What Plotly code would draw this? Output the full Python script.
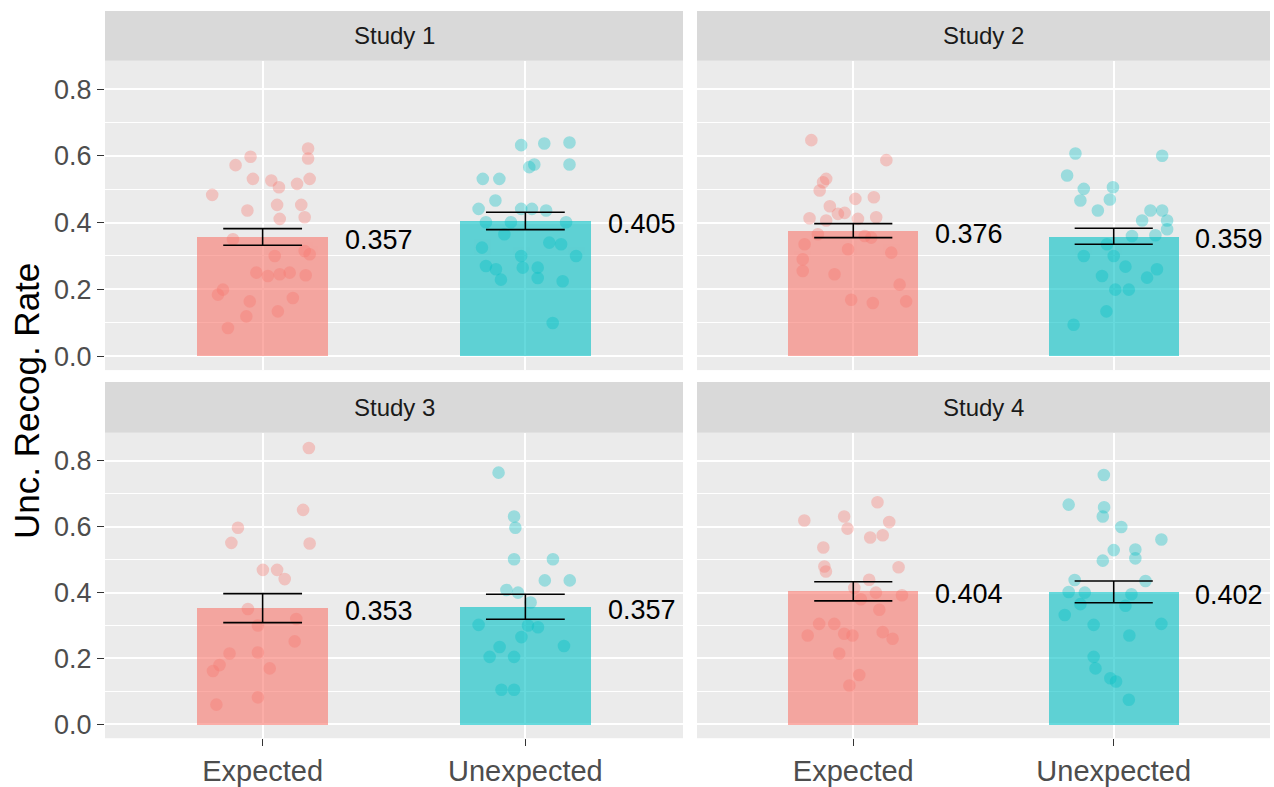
import plotly.graph_objects as go

# ---------------- data ----------------
studies = ["Study 1", "Study 2", "Study 3", "Study 4"]
conditions = ["Expected", "Unexpected"]
y_ticks = [0.0, 0.2, 0.4, 0.6, 0.8]
y_tick_labels = ["0.0", "0.2", "0.4", "0.6", "0.8"]

mean_expected = [0.357, 0.376, 0.353, 0.404]
mean_unexpected = [0.405, 0.359, 0.357, 0.402]
se_expected = [0.025, 0.021, 0.044, 0.029]
se_unexpected = [0.026, 0.024, 0.038, 0.033]

# individual participant rates (y) and horizontal jitter offsets (jit)
s1_exp_y = [0.622, 0.592, 0.597, 0.572, 0.531, 0.526, 0.506, 0.516, 0.531, 0.483, 0.453,
            0.453, 0.436, 0.416, 0.411, 0.350, 0.315, 0.305, 0.300, 0.250, 0.240, 0.245,
            0.250, 0.242, 0.199, 0.184, 0.164, 0.174, 0.119, 0.134, 0.084]
s1_exp_jit = [0.173, 0.173, -0.046, -0.103, -0.037, 0.033, 0.062, 0.131, 0.179, -0.192, 0.055,
              0.147, -0.058, 0.160, 0.065, -0.113, 0.160, 0.179, 0.046, -0.024, 0.020, 0.065,
              0.103, 0.164, -0.151, -0.170, -0.049, 0.115, -0.062, 0.058, -0.132]
s1_unexp_y = [0.632, 0.637, 0.640, 0.566, 0.574, 0.574, 0.531, 0.531, 0.466, 0.441, 0.441,
              0.441, 0.436, 0.401, 0.401, 0.401, 0.365, 0.340, 0.335, 0.325, 0.300, 0.300,
              0.270, 0.260, 0.265, 0.265, 0.229, 0.234, 0.224, 0.099]
s1_unexp_jit = [-0.016, 0.072, 0.168, 0.015, 0.034, 0.168, -0.162, -0.099, -0.114, -0.178, -0.016,
                0.025, 0.079, -0.150, -0.055, 0.155, -0.080, 0.091, 0.136, -0.165, 0.193, -0.016,
                -0.150, -0.112, -0.010, 0.047, -0.093, 0.047, 0.142, 0.104]
s2_exp_y = [0.647, 0.587, 0.531, 0.521, 0.496, 0.471, 0.476, 0.449, 0.426, 0.429, 0.413,
            0.411, 0.416, 0.406, 0.365, 0.360, 0.355, 0.335, 0.320, 0.310, 0.290, 0.255,
            0.245, 0.214, 0.164, 0.169, 0.159]
s2_exp_jit = [-0.161, 0.127, -0.104, -0.116, -0.129, 0.008, 0.079, -0.090, -0.059, -0.033, -0.168,
              0.018, 0.088, -0.104, -0.136, 0.044, 0.069, -0.187, -0.020, 0.146, -0.194, -0.194,
              -0.072, 0.178, 0.203, -0.008, 0.075]
s2_unexp_y = [0.607, 0.600, 0.541, 0.501, 0.506, 0.466, 0.469, 0.436, 0.436, 0.436, 0.406,
              0.406, 0.380, 0.362, 0.360, 0.335, 0.300, 0.300, 0.268, 0.240, 0.235, 0.260,
              0.199, 0.199, 0.134, 0.094]
s2_unexp_jit = [-0.147, 0.186, -0.179, -0.115, -0.003, -0.128, -0.015, -0.061, 0.141, 0.186, 0.109,
                0.205, 0.205, 0.160, 0.070, -0.026, -0.115, 0.000, 0.045, -0.045, 0.128, 0.166,
                0.006, 0.058, -0.028, -0.154]
s3_exp_y = [0.839, 0.651, 0.597, 0.551, 0.549, 0.469, 0.469, 0.441, 0.350, 0.300, 0.320,
            0.252, 0.215, 0.218, 0.180, 0.162, 0.170, 0.082, 0.060]
s3_exp_jit = [0.176, 0.154, -0.094, -0.119, 0.179, 0.001, 0.055, 0.084, -0.056, -0.018, 0.128,
              0.122, -0.126, -0.018, -0.164, -0.189, 0.027, -0.018, -0.176]
s3_unexp_y = [0.764, 0.631, 0.597, 0.501, 0.501, 0.437, 0.437, 0.408, 0.400, 0.370, 0.302,
              0.300, 0.295, 0.265, 0.235, 0.205, 0.205, 0.238, 0.105, 0.105]
s3_unexp_jit = [-0.102, -0.043, -0.038, -0.043, 0.105, 0.074, 0.169, -0.072, -0.028, 0.020, -0.178,
                0.010, 0.048, -0.015, -0.098, -0.136, -0.043, 0.147, -0.091, -0.043]
s4_exp_y = [0.674, 0.619, 0.631, 0.594, 0.614, 0.574, 0.567, 0.537, 0.479, 0.464, 0.477,
            0.414, 0.439, 0.400, 0.392, 0.380, 0.348, 0.305, 0.270, 0.305, 0.275, 0.270,
            0.280, 0.260, 0.215, 0.150, 0.118]
s4_exp_jit = [0.093, -0.188, -0.035, -0.022, 0.138, 0.113, 0.065, -0.115, -0.111, -0.105, 0.174,
              0.004, 0.061, 0.087, 0.187, 0.029, 0.100, -0.131, -0.175, -0.073, -0.035, -0.003,
              0.113, 0.151, -0.054, 0.023, -0.015]
s4_unexp_y = [0.757, 0.667, 0.659, 0.631, 0.599, 0.561, 0.529, 0.531, 0.504, 0.497, 0.438,
              0.435, 0.402, 0.400, 0.395, 0.365, 0.332, 0.360, 0.302, 0.305, 0.270, 0.205,
              0.170, 0.140, 0.130, 0.075]
s4_unexp_jit = [-0.038, -0.173, -0.037, -0.042, 0.029, 0.183, 0.000, 0.083, 0.083, -0.042, -0.150,
                0.122, -0.173, -0.111, 0.068, -0.128, -0.188, 0.045, -0.077, 0.183, 0.060, -0.077,
                -0.070, -0.013, 0.009, 0.058]

points_y = [[s1_exp_y, s1_unexp_y], [s2_exp_y, s2_unexp_y],
            [s3_exp_y, s3_unexp_y], [s4_exp_y, s4_unexp_y]]
points_jit = [[s1_exp_jit, s1_unexp_jit], [s2_exp_jit, s2_unexp_jit],
              [s3_exp_jit, s3_unexp_jit], [s4_exp_jit, s4_unexp_jit]]
means = [[mean_expected[i], mean_unexpected[i]] for i in range(4)]
ses = [[se_expected[i], se_unexpected[i]] for i in range(4)]

# ---------------- style ----------------
W, H = 1274, 787
bar_colors = ["rgba(248,118,109,0.6)", "rgba(0,191,196,0.6)"]
pt_colors = ["rgb(248,118,109)", "rgb(0,191,196)"]
FONT = "Liberation Sans, Arial, sans-serif"

# panel pixel boxes and strips
col_px = [(105, 683), (697, 1270)]
row_px = [(61, 372), (435, 742)]
strip_px = [(11, 61), (384, 435)]
Y_RANGE = [-0.042, 0.885]
X_RANGE = [0.4, 2.6]

fig = go.Figure()
layout = dict(
    width=W, height=H, margin=dict(l=0, r=0, t=0, b=0),
    paper_bgcolor="white", plot_bgcolor="#EBEBEB", showlegend=False,
    font=dict(family=FONT),
)
shapes, annotations = [], []

for i, study in enumerate(studies):
    r, c = divmod(i, 2)
    ax = "" if i == 0 else str(i + 1)
    xa, ya = "x" + ax, "y" + ax
    x0, x1 = col_px[c]
    yt, yb = row_px[r]
    layout["xaxis" + ax] = dict(
        domain=[x0 / W, x1 / W], range=X_RANGE, anchor=ya,
        tickvals=[1, 2], ticktext=conditions if r == 1 else ["", ""],
        showticklabels=(r == 1), ticks="outside" if r == 1 else "", ticklen=7,
        tickcolor="#333333", tickwidth=1.3,
        tickfont=dict(size=29, color="#4D4D4D", family=FONT),
        showgrid=True, gridcolor="white", gridwidth=1.6, zeroline=False,
        showline=False, fixedrange=True,
    )
    layout["yaxis" + ax] = dict(
        domain=[1 - yb / H, 1 - yt / H], range=Y_RANGE, anchor=xa,
        tickvals=y_ticks, ticktext=y_tick_labels,
        showticklabels=(c == 0), ticks="outside" if c == 0 else "", ticklen=7,
        tickcolor="#333333", tickwidth=1.3,
        tickfont=dict(size=27, color="#4D4D4D", family=FONT),
        showgrid=True, gridcolor="white", gridwidth=1.8, zeroline=False,
        minor=dict(dtick=0.1, tick0=0, showgrid=True, gridcolor="white", gridwidth=0.9),
        showline=False, fixedrange=True,
    )
    sy0, sy1 = strip_px[r]
    shapes.append(dict(type="rect", xref="paper", yref="paper",
                       x0=x0 / W, x1=x1 / W, y0=1 - sy1 / H, y1=1 - sy0 / H,
                       fillcolor="#D9D9D9", line=dict(width=0), layer="below"))
    annotations.append(dict(xref="paper", yref="paper", x=(x0 + x1) / 2 / W,
                            y=1 - (sy0 + sy1) / 2 / H, text=study, showarrow=False,
                            xanchor="center", yanchor="middle",
                            font=dict(size=24, color="#1A1A1A", family=FONT)))
    for k in range(2):
        cx = k + 1
        m, s = means[i][k], ses[i][k]
        fig.add_trace(go.Bar(x=[cx], y=[m], width=0.5, xaxis=xa, yaxis=ya,
                             marker=dict(color=bar_colors[k], line=dict(width=0)),
                             hoverinfo="skip"))
        fig.add_trace(go.Scatter(
            x=[cx + j for j in points_jit[i][k]], y=points_y[i][k],
            mode="markers", xaxis=xa, yaxis=ya,
            marker=dict(size=11, color=pt_colors[k], opacity=0.34,
                        line=dict(width=1.6, color=pt_colors[k])),
            hoverinfo="skip"))
        hw = 0.15
        fig.add_trace(go.Scatter(
            x=[cx - hw, cx + hw, None, cx, cx, None, cx - hw, cx + hw],
            y=[m + s, m + s, None, m + s, m - s, None, m - s, m - s],
            mode="lines", xaxis=xa, yaxis=ya,
            line=dict(color="black", width=1.6), hoverinfo="skip"))
        annotations.append(dict(xref=xa, yref=ya, x=cx + 0.305, y=m,
                                text=f"{m:.3f}", showarrow=False,
                                xanchor="left", yanchor="middle", yshift=-3,
                                font=dict(size=27, color="black", family=FONT)))

annotations.append(dict(xref="paper", yref="paper", x=27 / W, y=1 - 403 / H,
                        text="Unc. Recog. Rate", showarrow=False, textangle=-90,
                        xanchor="center", yanchor="middle",
                        font=dict(size=35, color="black", family=FONT)))

layout["shapes"] = shapes
layout["annotations"] = annotations
layout["bargap"] = 0
fig.update_layout(**layout)
fig.write_html("out.html")
